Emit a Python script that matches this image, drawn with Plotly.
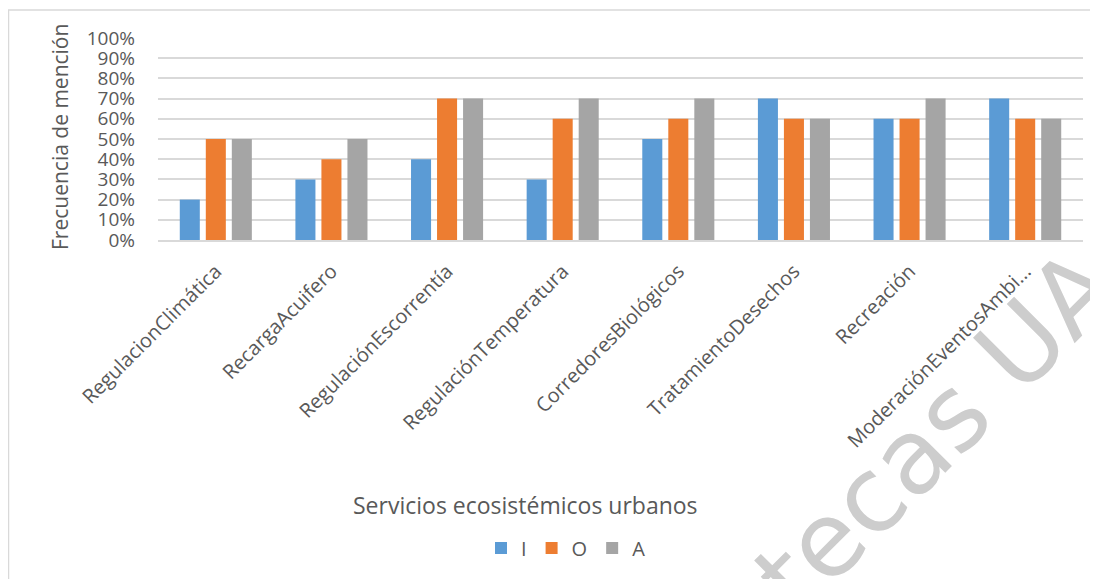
import plotly.graph_objects as go

categories = ["RegulacionClimática", "RecargaAcuifero", "RegulaciónEscorrentía",
              "RegulaciónTemperatura", "CorredoresBiológicos", "TratamientoDesechos",
              "Recreación", "ModeraciónEventosAmbi..."]
serie_I = [0.20, 0.30, 0.40, 0.30, 0.50, 0.70, 0.60, 0.70]
serie_O = [0.50, 0.40, 0.70, 0.60, 0.60, 0.60, 0.60, 0.60]
serie_A = [0.50, 0.50, 0.70, 0.70, 0.70, 0.60, 0.70, 0.60]
series_names = ["I", "O", "A"]

# page has an 8px body margin: figure origin sits at page (8, 8)
OFF = 8
W, H = 1090, 571
L, R, T, B = 150, 15, 30, 339
PW, PH = W - L - R, H - T - B


def px(x):  # page pixel x -> paper
    return (x - OFF - L) / PW


def py(y):  # page pixel y -> paper
    return (H - B - (y - OFF)) / PH


colors = ["#5B9BD5", "#ED7D31", "#A5A5A5"]
txt = "#595959"
font_family = "Open Sans"

fig = go.Figure()
for name, vals, col in zip(series_names, [serie_I, serie_O, serie_A], colors):
    fig.add_trace(go.Bar(x=categories, y=vals, name=name, marker_color=col,
                         marker_line_width=0))

fig.update_layout(
    width=W, height=H,
    margin=dict(l=L, r=R, t=T, b=B),
    paper_bgcolor="white", plot_bgcolor="rgba(0,0,0,0)",
    barmode="group", bargap=0.325, bargroupgap=0.23,
    font=dict(family=font_family, color=txt, size=19),
    showlegend=True,
    legend=dict(orientation="h", x=px(566), y=py(548), xanchor="center", yanchor="middle",
                font=dict(size=20, color=txt), bgcolor="rgba(0,0,0,0)",
                itemwidth=30, tracegroupgap=0),
    xaxis=dict(tickangle=-45, showgrid=False, showline=True, linecolor="#D9D9D9",
               linewidth=1.5, tickfont=dict(size=20, color=txt), ticks="",
               ticklabelstandoff=10),
    yaxis=dict(range=[0, 1], dtick=0.1, tickformat=".0%", showgrid=True,
               gridcolor="#D9D9D9", gridwidth=1.5, zeroline=False, showline=False,
               tickfont=dict(size=19, color=txt), ticklabelstandoff=22),
)

# chart-area border
fig.add_shape(type="rect", xref="paper", yref="paper",
              x0=px(8.5), y0=py(10), x1=px(1120), y1=py(620),
              line=dict(color="#D9D9D9", width=1.5), fillcolor="rgba(0,0,0,0)", layer="below")

# watermark
fig.add_shape(type="line", xref="paper", yref="paper",
              x0=px(565), y0=py(792), x1=px(1094), y1=py(263),
              line=dict(color="rgba(0,0,0,0)", width=0), layer="below",
              label=dict(text="Bibliotecas UA", textposition="middle", textangle=-45,
                         xanchor="center", yanchor="middle",
                         font=dict(family="DejaVu Sans", size=104, color="#CDCDCD")))

# axis titles
fig.add_annotation(text="Frecuencia de mención", xref="paper", yref="paper",
                   x=px(60), y=py(137), textangle=-90, showarrow=False,
                   xanchor="center", yanchor="middle",
                   font=dict(size=21, color=txt, family=font_family))
fig.add_annotation(text="Servicios ecosistémicos urbanos", xref="paper", yref="paper",
                   x=px(525), y=py(505), showarrow=False,
                   xanchor="center", yanchor="middle",
                   font=dict(size=23, color=txt, family=font_family))

fig.write_html("out.html")
